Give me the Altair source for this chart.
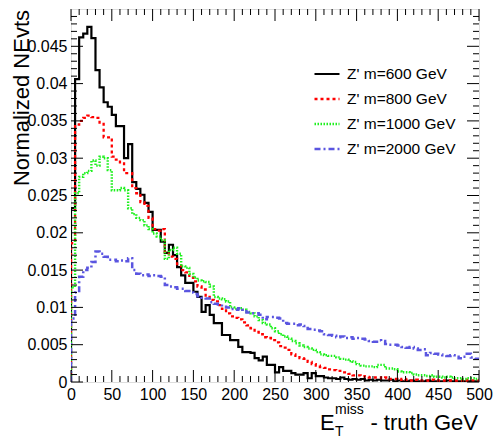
import altair as alt
import pandas as pd

# ---------------- data ----------------
bin_low = list(range(0, 500, 5))  # 5 GeV bins, 0..500
series_names = ["Z' m=600 GeV", "Z' m=800 GeV", "Z' m=1000 GeV", "Z' m=2000 GeV"]

m600 = [0.0233, 0.0406, 0.0462, 0.0467, 0.0476, 0.0461, 0.0418, 0.0395, 0.0375, 0.0369,
        0.0358, 0.0343, 0.0343, 0.0300, 0.0319, 0.0268, 0.0259, 0.0251, 0.0240, 0.0228,
        0.0204, 0.0204, 0.0188, 0.0173, 0.0184, 0.0170, 0.0154, 0.0143, 0.0133, 0.0133,
        0.0121, 0.0114, 0.0094, 0.0103, 0.0090, 0.0079, 0.0079, 0.0063, 0.0063, 0.0056,
        0.0056, 0.0047, 0.0040, 0.0040, 0.0039, 0.0032, 0.0029, 0.0034, 0.0023, 0.0023,
        0.0013, 0.0020, 0.0015, 0.0015, 0.0012, 0.0010, 0.0010, 0.0012, 0.0005, 0.0012,
        0.0008, 0.0008, 0.0006, 0.0005, 0.0005, 0.0004, 0.0006, 0.0004, 0.0003, 0.0004,
        0.0003, 0.0004, 0.0002, 0.0003, 0.0002, 0.0003, 0.0002, 0.0002, 0.0003, 0.0001,
        0.0002, 0.0001, 0.0001, 0.0002, 0.0001, 0.0001, 0.0001, 0.0002, 0.0001, 0.0001,
        0.0001, 0.0001, 0.0002, 0.0001, 0.0001, 0.0001, 0.0001, 0.0001, 0.0001, 0.0001]

m800 = [0.0186, 0.0345, 0.0350, 0.0354, 0.0357, 0.0355, 0.0354, 0.0346, 0.0328, 0.0328,
        0.0302, 0.0298, 0.0293, 0.0280, 0.0280, 0.0260, 0.0253, 0.0241, 0.0236, 0.0220,
        0.0205, 0.0203, 0.0205, 0.0174, 0.0168, 0.0165, 0.0158, 0.0150, 0.0147, 0.0140,
        0.0135, 0.0128, 0.0124, 0.0114, 0.0110, 0.0108, 0.0103, 0.0098, 0.0092, 0.0088,
        0.0086, 0.0084, 0.0080, 0.0076, 0.0072, 0.0067, 0.0064, 0.0060, 0.0059, 0.0056,
        0.0053, 0.0048, 0.0046, 0.0043, 0.0037, 0.0035, 0.0032, 0.0031, 0.0027, 0.0024,
        0.0022, 0.0020, 0.0019, 0.0017, 0.0016, 0.0015, 0.0013, 0.0013, 0.0011, 0.0009,
        0.0009, 0.0008, 0.0007, 0.0006, 0.0006, 0.0006, 0.0005, 0.0006, 0.0004, 0.0004,
        0.0003, 0.0004, 0.0003, 0.0002, 0.0003, 0.0002, 0.0002, 0.0002, 0.0003, 0.0002,
        0.0002, 0.0002, 0.0002, 0.0002, 0.0002, 0.0002, 0.0003, 0.0002, 0.0002, 0.0002]

m1000 = [0.0127, 0.0253, 0.0275, 0.0280, 0.0283, 0.0297, 0.0290, 0.0302, 0.0300, 0.0284,
         0.0257, 0.0257, 0.0260, 0.0257, 0.0233, 0.0225, 0.0220, 0.0217, 0.0210, 0.0205,
         0.0199, 0.0195, 0.0190, 0.0165, 0.0177, 0.0180, 0.0172, 0.0155, 0.0153, 0.0145,
         0.0140, 0.0136, 0.0135, 0.0134, 0.0128, 0.0114, 0.0112, 0.0111, 0.0108, 0.0100,
         0.0098, 0.0099, 0.0097, 0.0094, 0.0092, 0.0088, 0.0083, 0.0079, 0.0077, 0.0072,
         0.0068, 0.0064, 0.0061, 0.0058, 0.0055, 0.0052, 0.0049, 0.0047, 0.0045, 0.0043,
         0.0040, 0.0037, 0.0036, 0.0035, 0.0035, 0.0033, 0.0031, 0.0030, 0.0028, 0.0027,
         0.0024, 0.0022, 0.0021, 0.0021, 0.0020, 0.0023, 0.0023, 0.0018, 0.0018, 0.0017,
         0.0014, 0.0013, 0.0013, 0.0012, 0.0010, 0.0009, 0.0009, 0.0008, 0.0009, 0.0007,
         0.0007, 0.0006, 0.0007, 0.0006, 0.0005, 0.0005, 0.0004, 0.0005, 0.0005, 0.0004]

m2000 = [0.0085, 0.0120, 0.0141, 0.0150, 0.0153, 0.0161, 0.0175, 0.0172, 0.0168, 0.0164,
         0.0164, 0.0162, 0.0163, 0.0162, 0.0166, 0.0150, 0.0145, 0.0143, 0.0144, 0.0142,
         0.0143, 0.0142, 0.0141, 0.0130, 0.0128, 0.0127, 0.0125, 0.0125, 0.0122, 0.0120,
         0.0118, 0.0115, 0.0113, 0.0112, 0.0107, 0.0105, 0.0104, 0.0101, 0.0100, 0.0098,
         0.0097, 0.0099, 0.0097, 0.0093, 0.0092, 0.0092, 0.0090, 0.0084, 0.0087, 0.0087,
         0.0086, 0.0085, 0.0079, 0.0078, 0.0078, 0.0076, 0.0077, 0.0075, 0.0071, 0.0070,
         0.0069, 0.0068, 0.0064, 0.0063, 0.0062, 0.0060, 0.0061, 0.0059, 0.0060, 0.0058,
         0.0059, 0.0058, 0.0057, 0.0055, 0.0054, 0.0056, 0.0055, 0.0051, 0.0050, 0.0050,
         0.0049, 0.0047, 0.0046, 0.0047, 0.0045, 0.0043, 0.0044, 0.0036, 0.0039, 0.0038,
         0.0037, 0.0036, 0.0035, 0.0036, 0.0034, 0.0032, 0.0034, 0.0038, 0.0033, 0.0031]

colors = ["#000000", "#ff0000", "#1ef01e", "#5a55e0"]
dashes = [[1, 0], [3, 3], [1.5, 1.5], [6, 3, 2, 3]]
widths = [2.2, 2.5, 1.5, 1.6]

x_major = list(range(0, 501, 50))
x_minor = [v for v in range(0, 501, 10) if v % 50 != 0]
y_major = [0, 0.005, 0.01, 0.015, 0.02, 0.025, 0.03, 0.035, 0.04, 0.045]
y_minor = [0.001, 0.002, 0.003, 0.004, 0.006, 0.007, 0.008, 0.009,
           0.011, 0.012, 0.013, 0.014, 0.016, 0.017, 0.018, 0.019,
           0.021, 0.022, 0.023, 0.024, 0.026, 0.027, 0.028, 0.029,
           0.031, 0.032, 0.033, 0.034, 0.036, 0.037, 0.038, 0.039,
           0.041, 0.042, 0.043, 0.044, 0.046, 0.047, 0.048, 0.049]

# ---------------- build table ----------------
rows = []
for name, vals in zip(series_names, [m600, m800, m1000, m2000]):
    rows.append({"series": name, "x": 0, "y": 0.0, "o": 0})
    for i, (lo, v) in enumerate(zip(bin_low, vals)):
        rows.append({"series": name, "x": lo, "y": v, "o": i + 1})
    rows.append({"series": name, "x": 500, "y": vals[-1], "o": len(vals) + 1})
df = pd.DataFrame(rows)

W, H = 408, 373
FONT = "Liberation Sans"

xscale = alt.Scale(domain=[0, 500], nice=False, zero=False)
yscale = alt.Scale(domain=[0, 0.05], nice=False)

x_axis = alt.Axis(values=x_major, ticks=False, domain=False, grid=False,
                  labelFontSize=16, labelFont=FONT, labelColor="black",
                  labelPadding=4, labelFlush=False, title=None)
y_axis = alt.Axis(values=y_major, ticks=False, domain=False, grid=False,
                  format=".3~f", labelFontSize=16, labelFont=FONT,
                  labelColor="black", labelPadding=4, title=None)

legend = alt.Legend(title=None, orient="none", legendX=242, legendY=51,
                    symbolType="stroke", symbolSize=625, labelFontSize=15.5,
                    labelFont=FONT, labelColor="black", labelOffset=6,
                    rowPadding=2, padding=0, labelLimit=300)

lines = alt.Chart(df).mark_line(interpolate="step-after", strokeCap="butt",
                                clip=True).encode(
    x=alt.X("x:Q", scale=xscale, axis=x_axis),
    y=alt.Y("y:Q", scale=yscale, axis=y_axis),
    color=alt.Color("series:N", scale=alt.Scale(domain=series_names, range=colors),
                    legend=legend),
    strokeDash=alt.StrokeDash("series:N", scale=alt.Scale(domain=series_names, range=dashes),
                              legend=legend),
    strokeWidth=alt.StrokeWidth("series:N", scale=alt.Scale(domain=series_names, range=widths),
                                legend=legend),
    order=alt.Order("o:Q"),
)


def xticks(vals, L, top):
    d = pd.DataFrame({"x": vals})
    base = alt.Chart(d).mark_rule(color="black", strokeWidth=1)
    if top:
        return base.encode(x=alt.X("x:Q", scale=xscale, axis=x_axis),
                           y=alt.value(0), y2=alt.value(L))
    return base.encode(x=alt.X("x:Q", scale=xscale, axis=x_axis),
                       y=alt.value(H), y2=alt.value(H - L))


def yticks(vals, L, right):
    d = pd.DataFrame({"y": vals})
    base = alt.Chart(d).mark_rule(color="black", strokeWidth=1)
    if right:
        return base.encode(y=alt.Y("y:Q", scale=yscale, axis=y_axis),
                           x=alt.value(W), x2=alt.value(W - L))
    return base.encode(y=alt.Y("y:Q", scale=yscale, axis=y_axis),
                       x=alt.value(0), x2=alt.value(L))


ticks = [xticks(x_major, 12, False), xticks(x_minor, 6, False),
         xticks(x_major, 12, True), xticks(x_minor, 6, True),
         yticks(y_major, 12, False), yticks(y_minor, 6, False),
         yticks(y_major, 12, True), yticks(y_minor, 6, True)]


def label(text, x, y, size, align="left", angle=0, baseline="alphabetic"):
    kw = dict(fontSize=size, font=FONT, color="black", align=align, baseline=baseline)
    if angle:
        kw["angle"] = angle
    return alt.Chart(alt.Data(values=[{"t": text}])).mark_text(**kw).encode(
        text="t:N", x=alt.value(x), y=alt.value(y))


titles = [
    label("Normalized NEvts", -49, 1, 22, align="right", angle=270, baseline="middle"),
    label("E", 249, 421, 22),
    label("miss", 264, 405, 14),
    label("T", 264, 427, 14),
    label("- truth GeV", 407, 421, 22, align="right"),
]

chart = alt.layer(lines, *ticks, *titles).properties(
    width=W, height=H,
    autosize=alt.AutoSizeParams(type="none"),
    padding={"left": 71, "top": 9, "right": 16, "bottom": 57},
).configure_view(stroke="black", strokeWidth=1).configure(background="white")

chart.save("out.html", embed_options={"renderer": "svg", "actions": False})
